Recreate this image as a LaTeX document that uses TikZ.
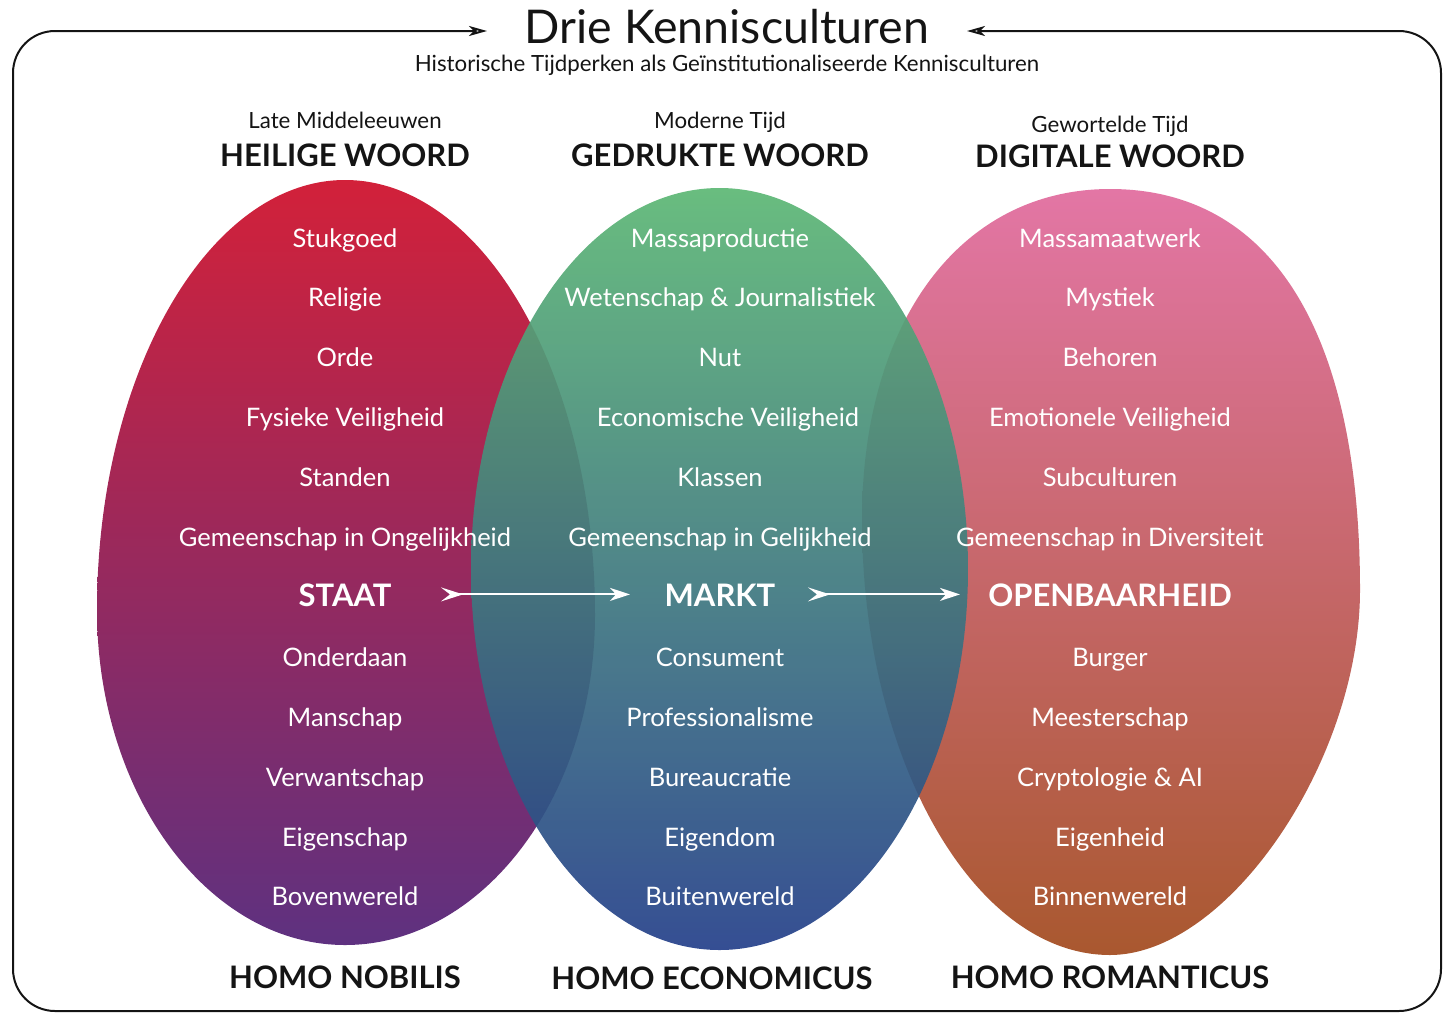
\documentclass[tikz,border=0pt]{standalone}
\usepackage{fontspec}
\setmainfont{Lato}
\usepackage{xcolor}
\usetikzlibrary{arrows.meta, positioning}

\definecolor{heilTop}{HTML}{D2213A}
\definecolor{heilBot}{HTML}{5E3180}
\definecolor{drukTop}{HTML}{5CB774}
\definecolor{drukBot}{HTML}{243F8A}
\definecolor{digiTop}{HTML}{E376A5}
\definecolor{digiBot}{HTML}{A9582F}
\definecolor{ink}{HTML}{141414}

\begin{document}
\begin{tikzpicture}[
  x=1pt, y=-1pt,
  node distance=33.5pt,
  item/.style={text=white, inner sep=0pt, text height=20pt, text depth=6pt,
               font=\fontsize{25.5}{30}\selectfont},
  keyitem/.style={item, font=\fontsize{31}{36}\selectfont\bfseries},
  era/.style={text=ink, inner sep=0pt, text height=16pt, text depth=5pt,
              font=\fontsize{22.3}{26}\selectfont},
  woord/.style={text=ink, font=\fontsize{31}{36}\selectfont\bfseries},
  homo/.style={woord, font=\fontsize{31}{36}\selectfont\bfseries},
  flow/.style={draw=white, line width=2pt,
               {Stealth[reversed, length=22pt, width=14pt, inset=9pt]}-{Stealth[length=20pt, width=13pt, inset=6pt]}},
  frame/.style={draw=ink, line width=2pt, rounded corners=42pt,
                {Stealth[open, length=18pt, width=10pt, inset=5pt]}-{Stealth[open, length=18pt, width=10pt, inset=5pt]}}
]
\useasboundingbox (0,0) rectangle (1456,1028);

% title and frame
\node[text=ink, font=\fontsize{46.5}{50}\selectfont] (title) at (727,27) {Drie Kennisculturen};
\node[text=ink, font=\fontsize{22.3}{26}\selectfont] (sub) at (727,65) {Historische Tijdperken als Geïnstitutionaliseerde Kennisculturen};
\coordinate (ftl) at (487,31);
\coordinate (ftr) at (967,31);
\draw[frame] (ftl) -- (13,31) -- (13,1011) -- (1441,1011) -- (1441,31) -- (ftr);

% the three cultures
\shade[top color=heilTop, bottom color=heilBot]
  (97,610) .. controls (97,373) and (209,180) .. (345,180)
  .. controls (482,180) and (595,373) .. (595,615)
  .. controls (595,797) and (482,945) .. (345,945)
  .. controls (208,945) and (97,794) .. (97,610) -- cycle;
\shade[top color=digiTop, bottom color=digiBot]
  (862,520) .. controls (862,321) and (961,189) .. (1110,189)
  .. controls (1272,189) and (1360,333) .. (1360,590)
  .. controls (1360,760) and (1228,955) .. (1110,955)
  .. controls (974,955) and (862,759) .. (862,520) -- cycle;
\shade[top color=drukTop, bottom color=drukBot, fill opacity=0.92]
  (719.5,569) ellipse [x radius=248.5, y radius=381];

% headers
\node[woord] (hw) at (345,155) {HEILIGE WOORD};
\node[era, above=6.5pt of hw] (hwera) {Late Middeleeuwen};
\node[woord] (gw) at (720,155) {GEDRUKTE WOORD};
\node[era, above=6.5pt of gw] (gwera) {Moderne Tijd};
\node[woord] (dw) at (1110,156) {DIGITALE WOORD};
\node[era, above=3.5pt of dw] (dwera) {Gewortelde Tijd};

% heilige woord
\node[item] (h1) at (345,240) {Stukgoed};
\node[item, below=of h1] (h2) {Religie};
\node[item, below=of h2] (h3) {Orde};
\node[item, below=of h3] (h4) {Fysieke Veiligheid};
\node[item, below=of h4] (h5) {Standen};
\node[item, below=of h5] (h6) {Gemeenschap in Ongelijkheid};
\node[keyitem, below=of h6] (staat) {STAAT};
\node[item, below=of staat] (h8) {Onderdaan};
\node[item, below=of h8] (h9) {Manschap};
\node[item, below=of h9] (h10) {Verwantschap};
\node[item, below=of h10] (h11) {Eigenschap};
\node[item, below=of h11] (h12) {Bovenwereld};

% gedrukte woord
\node[item] (g1) at (720,240) {Massaproductie};
\node[item, below=of g1] (g2) {Wetenschap \& Journalistiek};
\node[item, below=of g2] (g3) {Nut};
\node[item, below=of g3, xshift=8pt] (g4) {Economische Veiligheid};
\node[item, below=of g4, xshift=-8pt] (g5) {Klassen};
\node[item, below=of g5] (g6) {Gemeenschap in Gelijkheid};
\node[keyitem, below=of g6] (markt) {MARKT};
\node[item, below=of markt] (g8) {Consument};
\node[item, below=of g8] (g9) {Professionalisme};
\node[item, below=of g9] (g10) {Bureaucratie};
\node[item, below=of g10] (g11) {Eigendom};
\node[item, below=of g11] (g12) {Buitenwereld};

% digitale woord
\node[item] (d1) at (1110,240) {Massamaatwerk};
\node[item, below=of d1] (d2) {Mystiek};
\node[item, below=of d2] (d3) {Behoren};
\node[item, below=of d3] (d4) {Emotionele Veiligheid};
\node[item, below=of d4] (d5) {Subculturen};
\node[item, below=of d5] (d6) {Gemeenschap in Diversiteit};
\node[keyitem, below=of d6] (openb) {OPENBAARHEID};
\node[item, below=of openb] (d8) {Burger};
\node[item, below=of d8] (d9) {Meesterschap};
\node[item, below=of d9] (d10) {Cryptologie \& AI};
\node[item, below=of d10] (d11) {Eigenheid};
\node[item, below=of d11] (d12) {Binnenwereld};

\draw[flow] ([xshift=96pt, yshift=5pt]staat.center) -- ([xshift=-90pt, yshift=5pt]markt.center);
\draw[flow] ([xshift=88pt, yshift=5pt]markt.center) -- ([xshift=-150pt, yshift=5pt]openb.center);

% mens
\node[homo] (nob) at (345,977) {HOMO NOBILIS};
\node[homo] (eco) at (712,978) {HOMO ECONOMICUS};
\node[homo] (rom) at (1110,977) {HOMO ROMANTICUS};

\end{tikzpicture}
\end{document}
